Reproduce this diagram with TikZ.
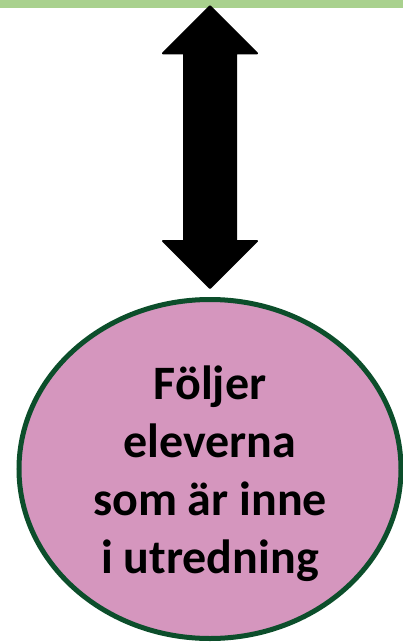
\documentclass[tikz,border=0pt]{standalone}
\usepackage{fontspec}
\setmainfont{Carlito}
\usetikzlibrary{calc,shapes.geometric}
\definecolor{barGreen}{HTML}{A9D18E}
\definecolor{ovalPink}{HTML}{D596BE}
\definecolor{ovalEdge}{HTML}{0C4E2B}
\begin{document}
\begin{tikzpicture}[x=1pt,y=-1pt]
\useasboundingbox (0,0) rectangle (403,643);
\node (bar) [fill=barGreen, minimum width=403pt, minimum height=8pt, inner sep=0pt, anchor=north west] at (0,0) {};
\node (oval) [ellipse, draw=ovalEdge, line width=5pt, fill=ovalPink, minimum width=382pt, minimum height=339pt, inner sep=0pt] at (210,469) {};
\node (txt) [align=center, font=\bfseries\fontsize{48}{57.7}\selectfont, inner sep=0pt, anchor=base] at (210,573) {Följer\\eleverna\\som är inne\\i utredning};
\coordinate (up) at ([yshift=2pt]oval.north |- bar.south);
\coordinate (dn) at ([yshift=9pt]oval.north);
\fill [draw, line width=2pt, line join=round] (up) -- ++(47,47) -- ++(-21,0) -- ($(dn)+(26,-47)$) -- ++(21,0) -- (dn)
  -- ++(-47,-47) -- ++(21,0) -- ($(up)+(-26,47)$) -- ++(-21,0) -- cycle;
\end{tikzpicture}
\end{document}
